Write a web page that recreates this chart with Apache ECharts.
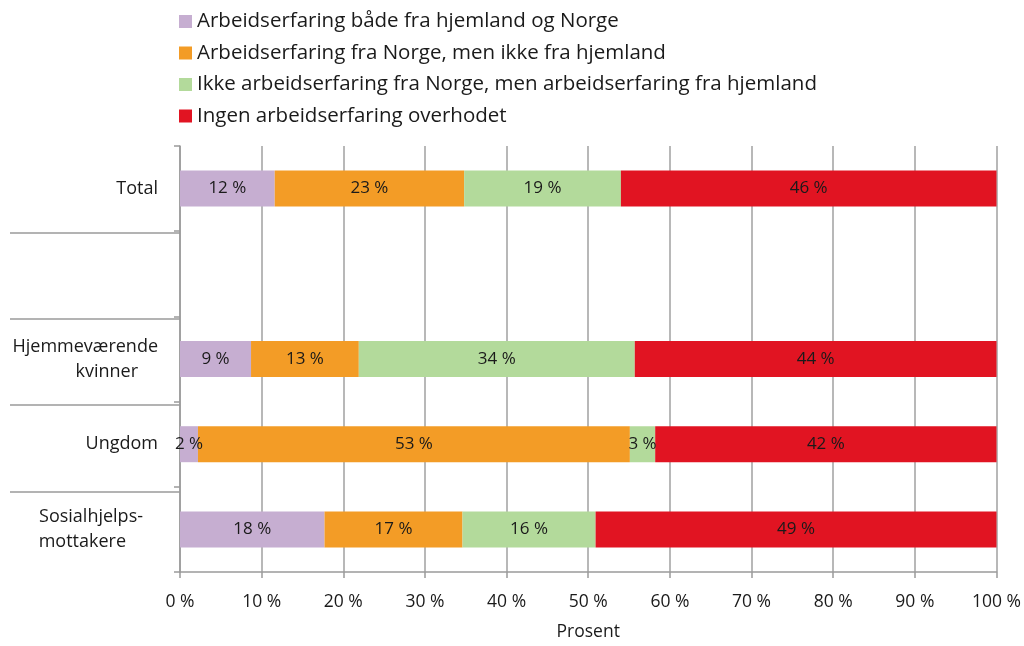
<!DOCTYPE html>
<html>
<head>
<meta charset="utf-8">
<script src="https://cdn.jsdelivr.net/npm/echarts@6/dist/echarts.min.js"></script>
<style>
  html, body { margin: 0; padding: 0; background: #fff; overflow: hidden; }
  #chart { width: 1024px; height: 646px; }
</style>
</head>
<body>
<div id="chart"></div>
<script>
// kategorier, ovenfra og ned (tom rad mellom Total og resten)
const categories = ['Total', '', 'Hjemmeværende\nkvinner', 'Ungdom', 'Sosialhjelps-\nmottakere'];
const seriesNames = [
  'Arbeidserfaring både fra hjemland og Norge',
  'Arbeidserfaring fra Norge, men ikke fra hjemland',
  'Ikke arbeidserfaring fra Norge, men arbeidserfaring fra hjemland',
  'Ingen arbeidserfaring overhodet'
];
const beggeSteder = [11.6, null, 8.7, 2.2, 17.7];
const bareNorge = [23.2, null, 13.2, 52.9, 16.9];
const bareHjemland = [19.2, null, 33.8, 3.1, 16.3];
const ingen = [46.0, null, 44.3, 41.8, 49.1];
const xTicks = [0, 10, 20, 30, 40, 50, 60, 70, 80, 90, 100];

const colors = ['#c6aed1', '#f39c26', '#b3da9b', '#e11422'];
const font = '"Open Sans", Roboto, sans-serif';
const textColor = '#1a1a1a';

const values = [beggeSteder, bareNorge, bareHjemland, ingen];

const series = values.map((vals, i) => ({
  name: seriesNames[i],
  type: 'bar',
  stack: 'total',
  barWidth: 36,
  xAxisIndex: 0,
  yAxisIndex: 0,
  itemStyle: { color: colors[i] },
  label: {
    show: true,
    position: 'inside',
    color: textColor,
    fontFamily: font,
    fontSize: 17,
    formatter: p => Math.round(p.value) + ' %'
  },
  emphasis: { disabled: true },
  data: vals
}));

const chart = echarts.init(document.getElementById('chart'), null, { renderer: 'canvas' });

chart.setOption({
  animation: false,
  color: colors,
  textStyle: { fontFamily: font, color: textColor },
  legend: {
    orient: 'vertical',
    left: 174,
    top: 6,
    itemWidth: 13,
    itemHeight: 13,
    itemGap: 10.5,
    icon: 'rect',
    textStyle: { fontSize: 20.5, lineHeight: 20, color: textColor, fontFamily: font },
    data: seriesNames
  },
  grid: [
    { left: 180, right: 25, top: 146, height: 432, containLabel: false },
    // egen smal grid for de lange skillelinjene til venstre for aksen
    { left: 10, width: 170, top: 146, height: 432, containLabel: false }
  ],
  xAxis: [
    {
      type: 'value',
      gridIndex: 0,
      min: xTicks[0],
      max: xTicks[xTicks.length - 1],
      interval: 10,
      name: 'Prosent',
      nameLocation: 'middle',
      nameGap: 51,
      nameTextStyle: { fontSize: 17.5, color: textColor, fontFamily: font },
      axisLine: { show: true, lineStyle: { color: '#9a9a9a', width: 1.5 } },
      axisTick: { show: true, length: 6, lineStyle: { color: '#9a9a9a', width: 1.5 } },
      splitLine: { show: true, lineStyle: { color: '#a0a0a0', width: 1.5 } },
      axisLabel: {
        margin: 21,
        fontSize: 17.5,
        color: textColor,
        fontFamily: font,
        formatter: v => v + ' %'
      }
    },
    { type: 'value', gridIndex: 1, show: false, min: 0, max: 1 }
  ],
  yAxis: [
    {
      type: 'category',
      gridIndex: 0,
      inverse: true,
      data: categories,
      axisLine: { show: true, lineStyle: { color: '#9a9a9a', width: 1.5 } },
      axisTick: { show: true, length: 6, lineStyle: { color: '#9a9a9a', width: 1.5 } },
      splitLine: { show: false },
      axisLabel: {
        margin: 22,
        fontSize: 18,
        lineHeight: 25,
        color: textColor,
        fontFamily: font,
        formatter: v => {
          if (v === 'Hjemmeværende\nkvinner') return '{a|Hjemmeværende}\n{b|kvinner}';
          if (v === 'Sosialhjelps-\nmottakere') return '{c|Sosialhjelps-}\n{d|mottakere}';
          return v;
        },
        rich: {
          a: { fontSize: 18, lineHeight: 25, color: textColor, fontFamily: font },
          b: { fontSize: 18, lineHeight: 25, color: textColor, fontFamily: font, padding: [0, 20, 0, 0] },
          c: { fontSize: 18, lineHeight: 25, color: textColor, fontFamily: font, padding: [0, 15, 0, 0] },
          d: { fontSize: 18, lineHeight: 25, color: textColor, fontFamily: font, padding: [0, 32, 0, 0] }
        }
      }
    },
    {
      type: 'category',
      gridIndex: 1,
      inverse: true,
      data: categories,
      axisLine: { show: false },
      axisTick: { show: false },
      axisLabel: { show: false },
      splitLine: {
        show: true,
        showMinLine: false,
        showMaxLine: false,
        lineStyle: { color: '#9a9a9a', width: 1.5 }
      }
    }
  ],
  series: series
});
</script>
</body>
</html>
